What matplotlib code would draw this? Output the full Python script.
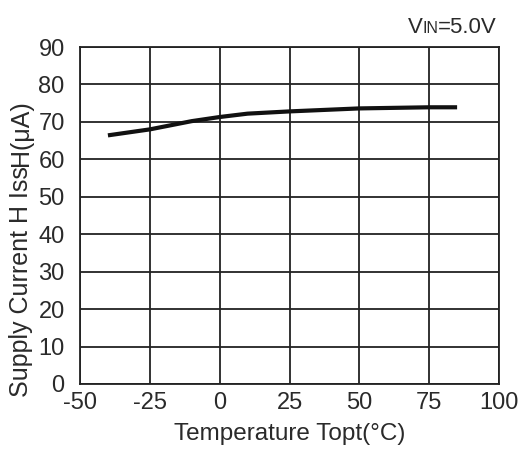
import matplotlib
matplotlib.use("Agg")
import matplotlib.pyplot as plt
from matplotlib.transforms import IdentityTransform

plt.rcParams["font.family"] = ["Liberation Sans", "DejaVu Sans"]
plt.rcParams["axes.unicode_minus"] = False

# Supply current vs temperature, VIN = 5.0V
temperature = [-40, -25, -10, 0, 10, 25, 50, 75, 85]
current = [66.4, 68.0, 70.2, 71.3, 72.2, 72.8, 73.6, 73.9, 73.9]

x_ticks = [-50, -25, 0, 25, 50, 75, 100]
y_ticks = [0, 10, 20, 30, 40, 50, 60, 70, 80, 90]


def draw_pieces(fig, x, y, pieces, rotation=0, align="start"):
    # text segments of different sizes, one after another on a shared baseline
    renderer = fig.canvas.get_renderer()
    texts = []
    sizes = []
    for s, size in pieces:
        t = fig.text(0, 0, s, fontsize=size, rotation=rotation,
                     transform=IdentityTransform(), ha="left", va="baseline",
                     rotation_mode="anchor", color="#2a2a2a")
        bb = t.get_window_extent(renderer)
        texts.append(t)
        sizes.append(bb.width if rotation == 0 else bb.height)
    pos = x if rotation == 0 else y
    if align == "end":
        pos -= sum(sizes)
    for t, w in zip(texts, sizes):
        if rotation == 0:
            t.set_position((pos, y))
        else:
            t.set_position((x, pos))
        pos += w


fig = plt.figure(figsize=(5.22, 4.53), dpi=100)
ax = fig.add_axes([80 / 522, 69 / 453, 419 / 522, 337 / 453])

ax.plot(temperature, current, color="#111111", lw=3.0, solid_capstyle="butt")

ax.set_xlim(-50, 100)
ax.set_ylim(0, 90)
ax.set_xticks(x_ticks)
ax.set_yticks(y_ticks)
ax.tick_params(length=0, labelsize=17, colors="#2a2a2a")
ax.tick_params(axis="y", pad=11)
ax.tick_params(axis="x", pad=6)
ax.grid(True, color="#222222", lw=1.3)
ax.set_axisbelow(True)
for sp in ax.spines.values():
    sp.set_color("#222222")
    sp.set_linewidth(1.3)

ax.set_xlabel("Temperature Topt(°C)", fontsize=17.5, color="#2a2a2a", labelpad=6)

draw_pieces(fig, 497, 420, [("V", 16), ("IN", 11.5), ("=5.0V", 16)], align="end")
draw_pieces(fig, 28, 56, [("Supply Current H Iss", 18), ("H(μA)", 18)],
            rotation=90)

fig.savefig("out.png", dpi=100)
